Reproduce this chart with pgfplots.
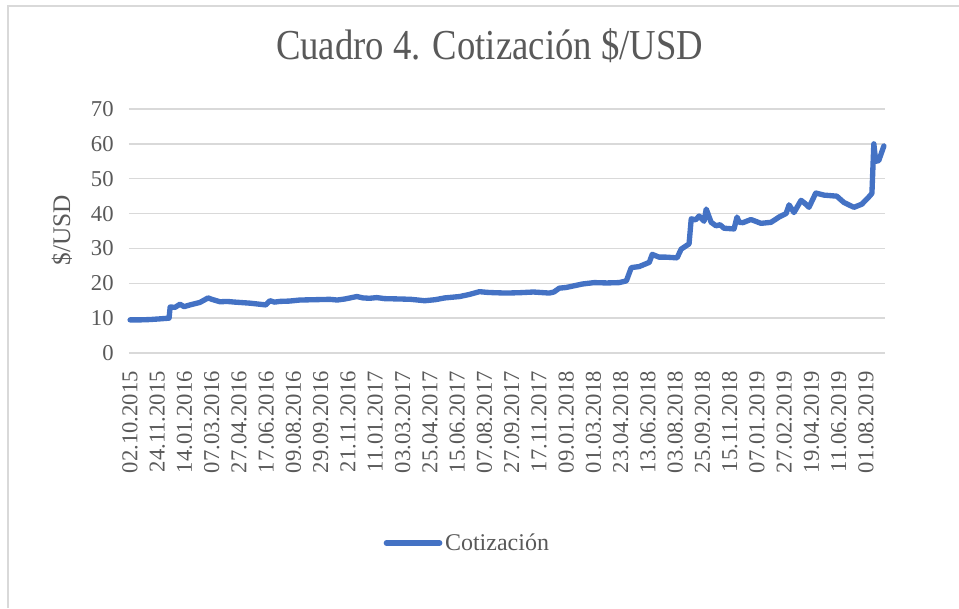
\documentclass[border=0pt]{standalone}
\usepackage{pgfplots}
\pgfplotsset{compat=1.18}
\usepackage{fontspec}
\setmainfont{Liberation Serif}
\newfontfamily\titlefont[FakeStretch=0.86]{Liberation Serif}
\definecolor{txtgray}{HTML}{595959}
\definecolor{gridgray}{HTML}{D9D9D9}
\definecolor{xlblue}{HTML}{4472C4}
\begin{document}
\begin{tikzpicture}
\path[use as bounding box] (-96.75pt,-191.25pt) rectangle (622.5pt,264.75pt);
\draw[gridgray,line width=1pt] (-90.75pt,-191.25pt) -- (-90.75pt,260.25pt) -- (622.5pt,260.25pt);
\begin{axis}[
  at={(0pt,0pt)}, anchor=south west,
  scale only axis, width=567pt, height=183pt,
  xmin=-0.04, xmax=27.7, ymin=0, ymax=70,
  ytick={0,10,...,70},
  xtick={0,...,27},
  xticklabels={02.10.2015,24.11.2015,14.01.2016,07.03.2016,27.04.2016,17.06.2016,09.08.2016,29.09.2016,21.11.2016,11.01.2017,03.03.2017,25.04.2017,15.06.2017,07.08.2017,27.09.2017,17.11.2017,09.01.2018,01.03.2018,23.04.2018,13.06.2018,03.08.2018,25.09.2018,15.11.2018,07.01.2019,27.02.2019,19.04.2019,11.06.2019,01.08.2019},
  /pgf/number format/assume math mode=true,
  ymajorgrids, grid style={gridgray,line width=1pt},
  axis line style={draw=none},
  major tick length=0pt,
  tick label style={font=\fontsize{17}{20}\selectfont, text=txtgray},
  xticklabel style={rotate=90, anchor=east},
  yticklabel style={anchor=east},
  xticklabel shift=10pt,
  yticklabel shift=8pt,
  ylabel={\$/USD},
  ylabel style={font=\fontsize{19}{22}\selectfont, text=txtgray, at={(axis description cs:-0.0886,0.504)}, anchor=center, rotate=0},
  title={\titlefont Cuadro 4. Cotización \$/USD},
  title style={font=\fontsize{32}{36}\selectfont, text=txtgray, at={(axis description cs:0.4769,1.225)}, anchor=center},
  legend style={draw=none, at={(axis description cs:0.448,-0.779)}, anchor=center, font=\fontsize{18}{21}\selectfont, text=txtgray, fill=none},
  legend image code/.code={\draw[#1, line cap=round] (0pt,0pt) -- (40pt,0pt);},
  clip=false,
]
\addplot[xlblue, line width=4pt, line join=round, line cap=round] coordinates {
(0.00,9.5) (0.35,9.5) (0.73,9.6) (1.10,9.8) (1.43,10.0) (1.47,13.2) (1.65,13.1) (1.83,14.0) (1.98,13.3) (2.20,13.8) (2.56,14.5) (2.86,15.8) (3.00,15.4) (3.30,14.7) (3.55,14.8) (3.85,14.6) (4.40,14.3) (4.98,13.8) (5.13,15.0) (5.30,14.6) (5.49,14.8) (5.85,14.9) (6.23,15.2) (6.80,15.3) (7.33,15.4) (7.60,15.2) (7.88,15.5) (8.32,16.2) (8.55,15.8) (8.79,15.7) (9.05,15.9) (9.34,15.6) (9.89,15.5) (10.30,15.4) (10.81,15.0) (11.20,15.3) (11.54,15.8) (12.09,16.2) (12.45,16.8) (12.82,17.6) (13.10,17.4) (13.37,17.3) (13.80,17.2) (14.29,17.3) (14.80,17.5) (15.38,17.2) (15.55,17.5) (15.75,18.6) (16.00,18.8) (16.30,19.3) (16.60,19.8) (17.03,20.2) (17.50,20.1) (17.95,20.2) (18.21,20.7) (18.39,24.5) (18.68,24.8) (19.05,26.0) (19.16,28.3) (19.41,27.5) (19.67,27.5) (20.07,27.3) (20.22,29.8) (20.51,31.3) (20.59,38.5) (20.75,38.2) (20.88,39.3) (21.06,37.8) (21.14,41.3) (21.32,37.5) (21.50,36.5) (21.65,36.8) (21.79,35.8) (22.16,35.6) (22.27,39.0) (22.35,37.5) (22.49,37.4) (22.78,38.3) (22.95,37.8) (23.15,37.2) (23.52,37.5) (23.81,39.0) (24.07,40.0) (24.18,42.5) (24.36,40.3) (24.62,43.8) (24.75,43.0) (24.91,41.8) (25.16,45.9) (25.46,45.3) (25.93,45.0) (26.19,43.2) (26.56,41.8) (26.85,42.7) (27.11,44.8) (27.22,45.8) (27.29,60.0) (27.36,55.0) (27.47,55.2) (27.66,59.4)
};
\addlegendentry{Cotización}
\end{axis}
\end{tikzpicture}
\end{document}
